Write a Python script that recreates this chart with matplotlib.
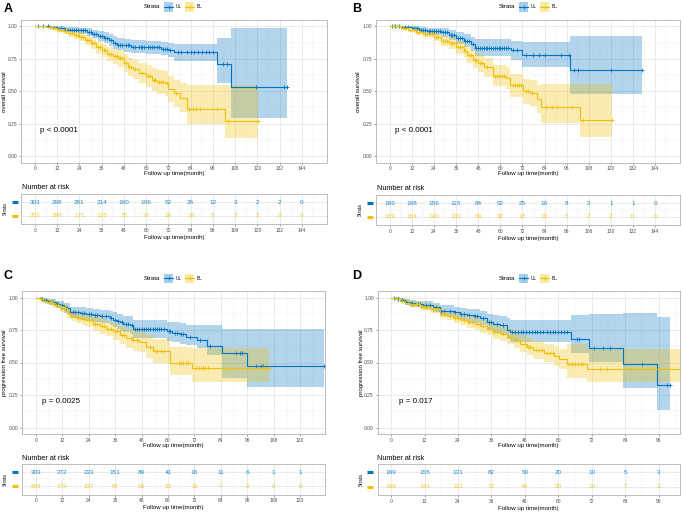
import matplotlib
matplotlib.use("Agg")
import matplotlib.pyplot as plt
import matplotlib.transforms as mtransforms
from matplotlib.patches import Rectangle
from matplotlib.lines import Line2D
import numpy as np

plt.rcParams['font.family'] = ['Liberation Sans', 'DejaVu Sans']

W, H = 683, 513
BLUE = '#0073C2'
YELLOW = '#EFC000'

# ---------------- panel A: overall survival ----------------
a_ul_t = [0, 8, 12, 16, 24, 28, 31, 34, 37, 40, 42, 44, 48, 52, 60, 68, 72, 75, 98, 106, 136]
a_ul_s = [1, .993, .985, .975, .97, .96, .945, .93, .91, .895, .875, .86, .855, .845, .84, .83, .815, .80, .71, .535, .535]
a_ul_lo = [1, .98, .97, .955, .945, .93, .91, .89, .87, .85, .83, .815, .805, .795, .79, .78, .765, .735, .56, .29, .29]
a_ul_hi = [1, 1, 1, .995, .99, .985, .975, .965, .955, .94, .925, .91, .905, .895, .89, .88, .87, .865, .91, .99, .99]
a_ul_cens = [1.5, 4.5, 7, 14, 16, 18, 19, 20, 21, 22, 23, 25, 26, 27, 29, 30, 32, 33, 35, 36, 38, 39, 41, 43,
             45, 46, 47, 49, 50, 51, 53, 54, 56, 57, 58, 59, 61, 62, 63, 64, 66, 67, 69, 70, 71, 73, 77, 79,
             82, 84, 86, 88, 90, 92, 94, 96, 101.5, 103.5, 119, 134.5, 136]

a_bl_t = [0, 6, 9, 12, 15, 18, 21, 24, 27, 30, 33, 36, 39, 42, 45, 48, 50, 53, 56, 60, 63, 66, 70, 72, 75, 78, 82, 102.5, 120.5]
a_bl_s = [1, .995, .985, .975, .965, .95, .935, .92, .895, .87, .84, .815, .79, .77, .755, .72, .69, .67, .64, .615,
          .59, .57, .56, .52, .485, .45, .36, .27, .27]
a_bl_lo = [1, .985, .97, .955, .94, .92, .9, .885, .855, .825, .79, .765, .735, .71, .69, .65, .62, .595, .56, .53,
           .5, .475, .46, .42, .38, .34, .245, .14, .14]
a_bl_hi = [1, 1, .995, .99, .985, .975, .965, .955, .935, .91, .885, .865, .845, .825, .815, .785, .76, .745, .72, .7,
           .68, .665, .655, .62, .59, .56, .55, .55, .55]
a_bl_cens = [8, 10, 11, 13, 14, 16, 17, 19, 20, 22, 23, 25, 26, 28, 29, 31, 32, 34, 35, 37, 38, 40, 41, 43, 44, 46,
             47, 49, 51, 52, 54, 58, 61, 62, 64, 65, 67, 68, 69, 71, 76, 83, 85, 87, 89, 98, 104, 120.5]

# ---------------- panel B: overall survival ----------------
b_ul_t = [0, 6, 12, 16, 20, 28, 32, 36, 40, 44, 46, 66, 72, 98, 137]
b_ul_s = [1, .995, .985, .975, .965, .955, .935, .91, .89, .865, .835, .815, .78, .665, .665]
b_ul_lo = [1, .985, .965, .95, .935, .92, .895, .865, .84, .81, .775, .745, .69, .48, .48]
b_ul_hi = [1, 1, 1, .995, .99, .985, .97, .955, .94, .92, .905, .89, .88, .925, .925]
b_ul_cens = [1, 3, 5, 8, 10, 13, 15, 17, 18, 19, 21, 22, 23, 24, 25, 26, 27, 29, 30, 31, 33, 34, 35, 37, 38, 39, 41,
             42, 43, 45, 47, 48, 49, 50, 51, 52, 53, 54, 55, 56, 57, 58, 59, 60, 61, 62, 63, 64, 67, 69, 74, 77.5,
             81, 84, 93, 97, 100, 102, 120, 137]

b_bl_t = [0, 6, 10, 14, 18, 24, 28, 32, 36, 40, 42, 45, 48, 51, 56, 63, 65, 72.5, 76, 80, 82, 103, 120.5]
b_bl_s = [1, .99, .975, .96, .945, .92, .89, .87, .84, .81, .78, .745, .72, .685, .62, .605, .545, .50, .485, .44,
          .375, .28, .28]
b_bl_lo = [1, .975, .955, .935, .915, .885, .85, .825, .79, .755, .72, .68, .65, .61, .54, .52, .455, .405, .385,
           .335, .255, .147, .147]
b_bl_hi = [1, 1, .995, .985, .975, .955, .93, .915, .89, .865, .84, .81, .79, .76, .70, .69, .635, .595, .585, .545,
           .555, .555, .555]
b_bl_cens = [2, 4, 7, 9, 11, 13, 15, 16, 19, 20, 22, 23, 25, 26, 29, 30, 31, 33, 34, 35, 37, 38, 39, 41, 43, 44, 46,
             47, 49, 50, 53, 57, 58, 59, 61, 62, 67, 68, 69, 70, 71, 74, 75, 77, 85, 88, 90.5, 99, 105, 120.5]

# ---------------- panel C: progression free survival ----------------
c_ul_t = [0, 2, 3.5, 5, 6.5, 9, 11, 13, 15.5, 20, 23, 26, 29, 31, 33.5, 35, 36.8, 38, 39.8, 42.8, 44, 59.5, 62,
          65.5, 68, 73, 77.6, 84.4, 95.8, 131]
c_ul_s = [1, .99, .98, .97, .965, .95, .94, .92, .887, .88, .875, .865, .86, .855, .845, .83, .82, .81, .80, .79,
          .76, .74, .73, .72, .70, .675, .627, .57, .475, .475]
c_ul_lo = [1, .985, .965, .95, .94, .92, .905, .88, .845, .835, .83, .815, .805, .80, .79, .77, .76, .745, .735, .72,
           .69, .665, .655, .64, .635, .61, .56, .38, .31, .31]
c_ul_hi = [1, 1, .995, .99, .985, .975, .97, .955, .93, .925, .92, .91, .905, .9, .895, .885, .875, .87, .86, .855,
           .83, .815, .81, .80, .785, .79, .79, .76, .76, .76]
c_ul_cens = [3, 4.5, 7, 8, 9.5, 10, 12, 13.5, 14, 17, 18, 19, 21, 22, 24, 25, 27, 28, 30, 32, 34, 36, 37.5, 39, 41,
             42, 43.5, 45, 46, 47, 48, 49, 50, 51, 52, 53, 54, 55, 56, 57, 58, 60.5, 61, 63, 64, 66, 67, 70, 74.3,
             79, 91, 92.5, 93.5, 100, 102, 103, 131]

c_bl_t = [0, 2, 3.5, 5, 8, 11, 14, 16, 18.6, 21, 23, 26, 29, 32, 35, 38, 41, 44, 47, 50, 53.4, 61, 70.8, 106]
c_bl_s = [1, .99, .975, .965, .945, .92, .88, .86, .845, .835, .825, .80, .78, .76, .74, .71, .685, .67, .66, .62,
          .585, .50, .455, .455]
c_bl_lo = [1, .98, .96, .945, .92, .89, .845, .82, .80, .79, .775, .745, .72, .70, .675, .64, .61, .59, .58, .535,
           .495, .405, .35, .35]
c_bl_hi = [1, 1, .99, .985, .97, .95, .915, .9, .89, .88, .875, .855, .84, .82, .805, .78, .76, .75, .745, .71, .68,
           .62, .61, .61]
c_bl_cens = [2.5, 4, 6, 7, 9, 10, 12, 13, 15, 17, 19, 20, 22, 24, 25, 27, 28, 30, 31, 33, 34, 36, 37, 39, 40, 43,
             44, 46, 52, 54, 55, 57, 58, 65, 66, 67, 68, 69, 72.5, 74, 75, 76, 77, 78, 87, 88, 103.3, 106]

# ---------------- panel D: progression free survival ----------------
d_ul_t = [0, 1.5, 3.2, 5, 6.8, 9, 11.6, 15.2, 17.6, 22.4, 24.8, 27.2, 29.6, 32, 34.4, 36.7, 39.1, 41.5, 42.7, 64.6,
          71.2, 83.4, 95.4, 100.2]
d_ul_s = [1, .99, .98, .965, .955, .95, .94, .925, .90, .885, .87, .865, .855, .84, .81, .80, .785, .75, .735, .68,
          .61, .49, .325, .325]
d_ul_lo = [1, .985, .965, .945, .93, .925, .91, .89, .86, .84, .825, .815, .80, .785, .75, .735, .72, .68, .66, .57,
           .505, .30, .135, .135]
d_ul_hi = [1, 1, .995, .985, .98, .975, .97, .96, .945, .93, .92, .915, .91, .895, .87, .865, .855, .84, .83, .865,
           .87, .88, .85, .85]
d_ul_cens = [1, 2.5, 4, 5.5, 7.5, 9.5, 10.5, 12.5, 14, 16, 18, 19, 21, 23, 25, 26, 28, 30, 31, 33, 35, 36, 38, 40,
             43.5, 44.5, 45.5, 46.5, 47.5, 48.5, 49.5, 50.5, 51.5, 52.5, 53.5, 54.5, 56, 57, 58, 59, 60, 61, 62, 63,
             66.7, 67.3, 73, 76, 78.6, 90, 99, 100.2]

d_bl_t = [0, 1.5, 3.2, 5, 6.8, 10.4, 14, 17.6, 20, 22.4, 25, 27.2, 30, 32, 34.4, 36.7, 39, 41.5, 44, 46.3, 48.7, 51,
          54.7, 58.3, 60.1, 63, 70.3, 106]
d_bl_s = [1, .99, .975, .96, .95, .93, .91, .875, .86, .845, .83, .81, .795, .78, .76, .735, .72, .70, .67, .645,
          .62, .595, .575, .55, .525, .49, .45, .45]
d_bl_lo = [1, .98, .96, .94, .925, .905, .88, .84, .825, .805, .79, .765, .75, .73, .71, .68, .665, .64, .61, .58,
           .555, .53, .505, .475, .45, .38, .35, .35]
d_bl_hi = [1, 1, .99, .98, .97, .955, .94, .91, .895, .885, .87, .855, .84, .83, .81, .79, .775, .76, .73, .71, .69,
           .665, .645, .625, .60, .64, .60, .60]
d_bl_cens = [2, 4, 6, 8, 9, 11, 12, 13, 15, 16, 19, 21, 23, 24, 26, 28, 29, 31, 33, 35, 37, 38, 40, 43, 45, 48, 49,
             50, 52, 53, 54, 56, 57, 58, 64, 65, 66, 67, 68, 69, 75, 77.5, 86, 93, 104]

# ---------------- numbers at risk ----------------
a_risk_ul = [303, 298, 281, 214, 160, 106, 52, 26, 12, 3, 2, 2, 0]
a_risk_bl = [203, 198, 171, 125, 75, 37, 19, 10, 5, 2, 2, 0, 0]
b_risk_ul = [169, 168, 156, 115, 84, 52, 25, 10, 8, 2, 1, 1, 0]
b_risk_bl = [169, 164, 140, 103, 64, 32, 18, 10, 5, 2, 2, 0, 0]
c_risk_ul = [303, 272, 233, 151, 89, 41, 18, 11, 6, 1, 1]
c_risk_bl = [203, 173, 137, 87, 53, 23, 11, 7, 2, 0, 0]
d_risk_ul = [169, 155, 131, 82, 50, 20, 10, 5, 3]
d_risk_bl = [169, 143, 111, 72, 44, 20, 10, 7, 2]

fig = plt.figure(figsize=(W / 100, H / 100), dpi=100)


def rect(l, t, r, b):
    return [l / W, 1 - b / H, (r - l) / W, (b - t) / H]


def ftext(x, y, s, **kw):
    fig.text(x / W, 1 - y / H, s, **kw)


def step_at(t, s, x):
    idx = np.searchsorted(np.asarray(t), np.asarray(x), side='right') - 1
    return np.asarray(s)[idx]


def draw_km(ax, t, s, lo, hi, cens, color):
    ax.fill_between(t, lo, hi, step='post', color=color, alpha=0.3, lw=0)
    ax.step(t, s, where='post', color=color, lw=0.8)
    ax.plot(cens, step_at(t, s, cens), ls='none', marker='+', ms=3.2, mew=0.6, color=color)


def style_axes(ax, xlim, ticks):
    ax.set_xlim(xlim)
    ax.set_xticks(ticks)
    ax.set_xticks(np.arange(6, xlim[1], 12), minor=True)
    ax.grid(which='major', color='#dedede', lw=0.45)
    ax.grid(which='minor', color='#f0f0f0', lw=0.35)
    ax.set_axisbelow(True)
    ax.tick_params(which='major', labelsize=3.5, labelcolor='#4d4d4d', color='#555555',
                   length=1.5, width=0.4, pad=1.2)
    ax.tick_params(which='minor', length=0)
    for sp in ax.spines.values():
        sp.set_color('#b3b3b3')
        sp.set_linewidth(0.6)


def panel(main_box, tab_box, xlim, ticks, curves, risk_ul, risk_bl, ylabel, ptext,
          letter_xy, legend_xy, ylabel_x, strata_x, dash_x, nrisk_xy):
    ax = fig.add_axes(rect(*main_box))
    for t, s, lo, hi, cens, col in curves:
        draw_km(ax, t, s, lo, hi, cens, col)
    style_axes(ax, xlim, ticks)
    ax.set_ylim(-0.05, 1.05)
    ax.set_yticks([0, .25, .5, .75, 1])
    ax.set_yticklabels(['0.00', '0.25', '0.50', '0.75', '1.00'])
    ax.set_yticks(np.arange(0.125, 1.0, 0.25), minor=True)
    ax.text(2.7, 0.2, ptext, fontsize=5.8, ha='left', va='center')

    l, t, r, b = main_box
    cx = (l + r) / 2
    ftext(cx, b + 11, 'Follow up time(month)', ha='center', va='center', fontsize=4.4)
    ftext(ylabel_x, (t + b) / 2, ylabel, rotation=90, ha='center', va='center', fontsize=4.4)
    ftext(letter_xy[0], letter_xy[1], letter_xy[2], ha='center', va='center', fontsize=9, fontweight='bold')

    # legend above the plot
    lx, ly = legend_xy
    ftext(lx, ly, 'Strata', ha='left', va='center', fontsize=4.4)
    for kx, lab, col in [(lx + 20, 'UL', BLUE), (lx + 41, 'BL', YELLOW)]:
        fig.add_artist(Rectangle((kx / W, 1 - (ly + 4.5) / H), 9 / W, 9 / H, transform=fig.transFigure,
                                 facecolor=col, alpha=0.35, lw=0))
        fig.add_artist(Line2D([kx / W, (kx + 9) / W], [1 - ly / H] * 2, color=col, lw=0.8,
                              transform=fig.transFigure))
        fig.add_artist(Line2D([(kx + 4.5) / W], [1 - ly / H], marker='+', ms=3.2, mew=0.6, color=col,
                              transform=fig.transFigure))
        ftext(kx + 12, ly, lab, ha='left', va='center', fontsize=3.4)

    # risk table
    tb = fig.add_axes(rect(*tab_box))
    style_axes(tb, xlim, ticks)
    tb.set_ylim(-0.6, 1.6)
    tb.set_yticks([0, 1])
    tb.set_yticklabels(['', ''])
    tb.set_yticks([0.5], minor=True)
    tb.tick_params(axis='y', length=0)
    for x, n in zip(ticks, risk_ul):
        tb.text(x, 1, str(n), ha='center', va='center', color=BLUE, fontsize=4.6, alpha=0.85)
    for x, n in zip(ticks, risk_bl):
        tb.text(x, 0, str(n), ha='center', va='center', color=YELLOW, fontsize=4.6, alpha=0.85)
    tl, tt, tr, tbm = tab_box
    ftext((tl + tr) / 2, tbm + 13.5, 'Follow up time(month)', ha='center', va='center', fontsize=4.4)
    ftext(nrisk_xy[0], nrisk_xy[1], 'Number at risk', ha='left', va='center', fontsize=5.2)
    ftext(strata_x, (tt + tbm) / 2, 'Strata', rotation=90, ha='center', va='center', fontsize=3.3)
    trans = mtransforms.blended_transform_factory(fig.transFigure, tb.transData)
    for yv, col in [(1, BLUE), (0, YELLOW)]:
        tb.add_artist(Line2D([dash_x / W, (dash_x + 6) / W], [yv, yv], color=col, lw=2.2,
                             transform=trans, clip_on=False, solid_capstyle='butt'))


panel((21, 20, 327, 162.5), (21, 194, 327, 224), (-7.5, 157.5), np.arange(0, 145, 12),
      [(a_ul_t, a_ul_s, a_ul_lo, a_ul_hi, a_ul_cens, BLUE),
       (a_bl_t, a_bl_s, a_bl_lo, a_bl_hi, a_bl_cens, YELLOW)],
      a_risk_ul, a_risk_bl, 'overall survival', 'p < 0.0001',
      (8.5, 8.5, 'A'), (144, 7), 5, 5, 11.5, (22, 187.5))

panel((376, 20, 680, 162.5), (376, 195, 680, 225), (-7.5, 157.5), np.arange(0, 145, 12),
      [(b_ul_t, b_ul_s, b_ul_lo, b_ul_hi, b_ul_cens, BLUE),
       (b_bl_t, b_bl_s, b_bl_lo, b_bl_hi, b_bl_cens, YELLOW)],
      b_risk_ul, b_risk_bl, 'overall survival', 'p < 0.0001',
      (357, 8.5, 'B'), (499, 7), 359, 360, 367, (377, 189))

panel((22, 291, 325, 434), (22, 464, 325, 494.5), (-6.25, 131.25), np.arange(0, 121, 12),
      [(c_ul_t, c_ul_s, c_ul_lo, c_ul_hi, c_ul_cens, BLUE),
       (c_bl_t, c_bl_s, c_bl_lo, c_bl_hi, c_bl_cens, YELLOW)],
      c_risk_ul, c_risk_bl, 'progression free survival', 'p = 0.0025',
      (8.5, 276, 'C'), (144, 278), 5, 5, 11.5, (22, 458))

panel((377.5, 291, 680, 434), (377.5, 464, 680, 495), (-4.9, 103.7), np.arange(0, 97, 12),
      [(d_ul_t, d_ul_s, d_ul_lo, d_ul_hi, d_ul_cens, BLUE),
       (d_bl_t, d_bl_s, d_bl_lo, d_bl_hi, d_bl_cens, YELLOW)],
      d_risk_ul, d_risk_bl, 'progression free survival', 'p = 0.017',
      (356.5, 276, 'D'), (499, 278), 361, 361, 367, (377, 458))

fig.savefig('out.png', dpi=100)
